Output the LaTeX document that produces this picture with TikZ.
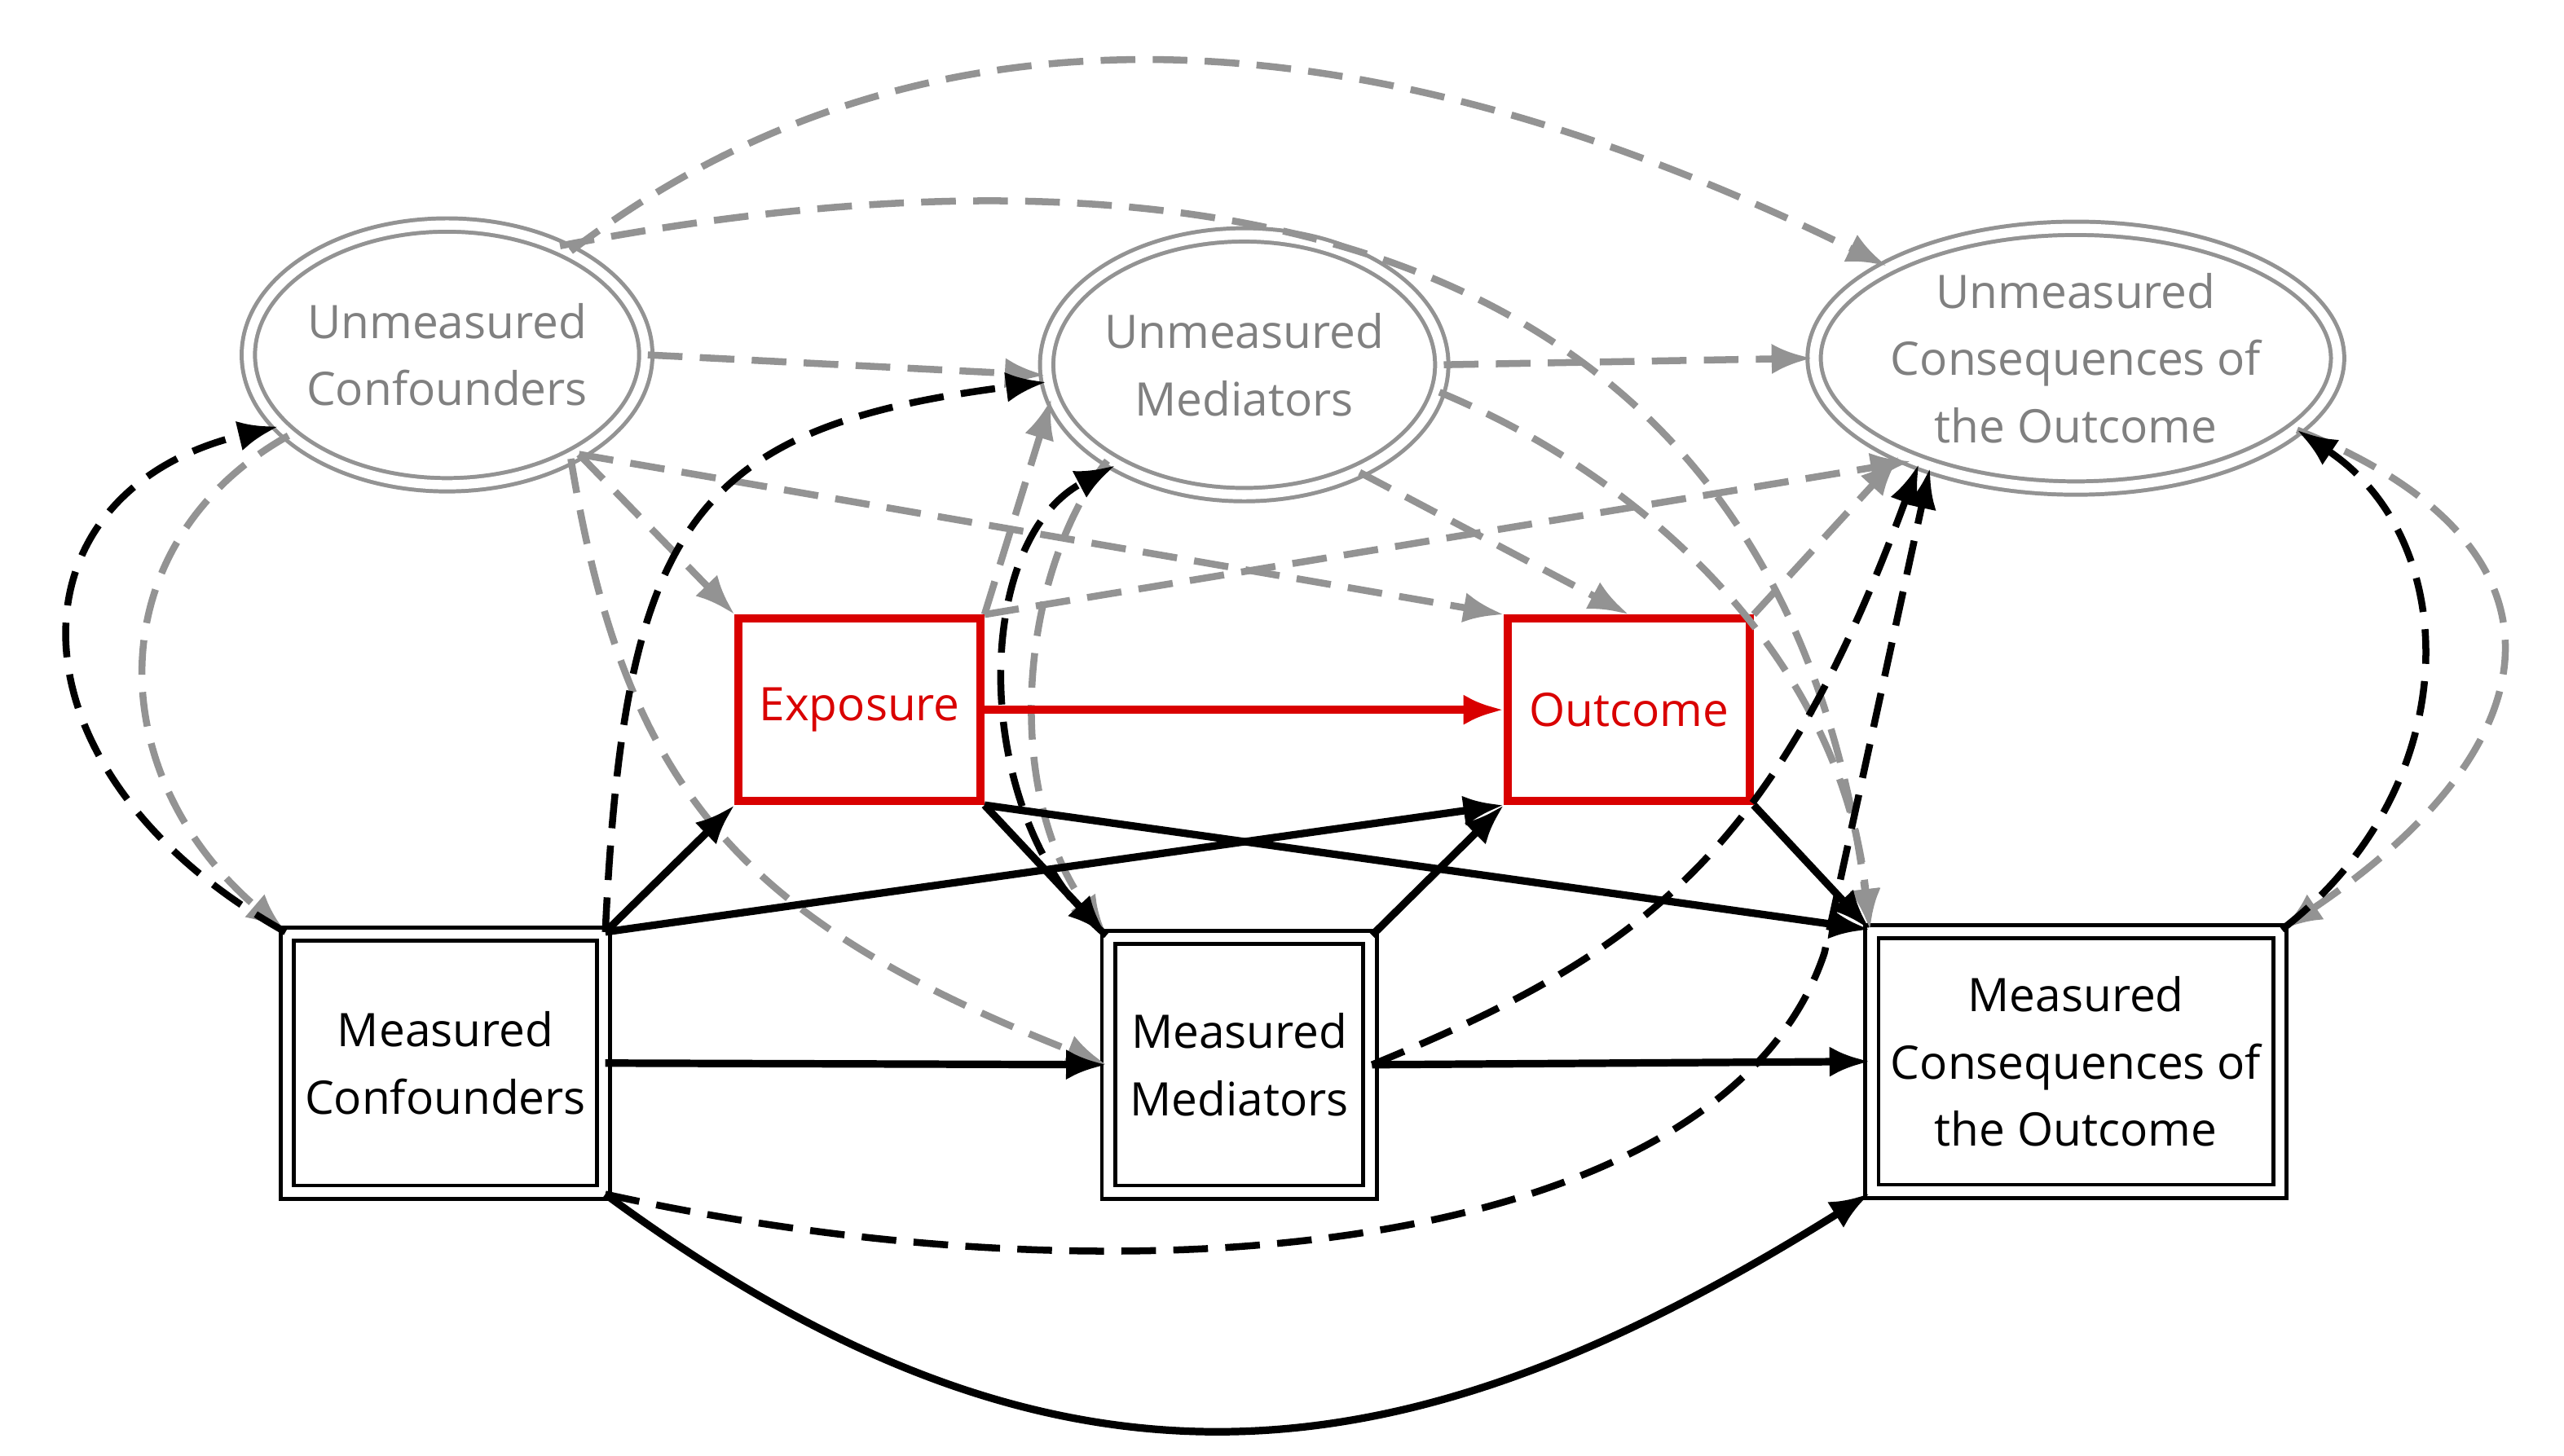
\documentclass[tikz,border=0pt]{standalone}
\usepackage{fontspec}
\setmainfont{Open Sans}
\usetikzlibrary{shapes.geometric,arrows.meta}
\tikzset{
  unm/.style={ellipse,draw=gray!85,double=white,double distance=1.6pt,line width=0.7pt,text=gray,align=center,inner sep=0pt},
  meas/.style={rectangle,draw=black,double=white,double distance=1.6pt,line width=0.7pt,align=center,inner sep=1pt},
  key/.style={rectangle,draw=red!85!black,line width=1.4pt,text=red!85!black,inner sep=1pt},
  gd/.style={-{Latex[length=7pt]},draw=gray!85,line width=1.2pt,dash pattern=on 6pt off 3pt},
  bd/.style={-{Latex[length=7pt]},draw=black,line width=1.2pt,dash pattern=on 6pt off 3pt},
  bs/.style={-{Latex[length=7pt]},draw=black,line width=1.3pt},
}
\begin{document}
\begin{tikzpicture}[x=0.01cm,y=-0.01cm,font=\fontsize{8}{11.6}\selectfont]
\useasboundingbox (0,0) rectangle (1560,886);
% latent nodes
\node[unm,minimum width=2.05cm,minimum height=1.58cm] (UC) at (272,216) {Unmeasured\\Confounders};
\node[unm,minimum width=2.05cm,minimum height=1.58cm] (UM) at (757,222) {Unmeasured\\Mediators};
\node[unm,minimum width=2.82cm,minimum height=1.58cm] (UCO) at (1263,218) {Unmeasured\\Consequences of\\the Outcome};
% exposure and outcome
\node[key,minimum width=1.47cm,minimum height=1.11cm] (E) at (523,432) {Exposure};
\node[key,minimum width=1.47cm,minimum height=1.11cm] (O) at (991,432) {Outcome};
% measured nodes
\node[meas,minimum width=1.92cm,minimum height=1.57cm] (MC) at (271,647) {Measured\\Confounders};
\node[meas,minimum width=1.59cm,minimum height=1.55cm] (MM) at (754,648) {Measured\\Mediators};
\node[meas,minimum width=2.48cm,minimum height=1.58cm] (MCO) at (1263,646) {Measured\\Consequences of\\the Outcome};
% gray dashed
\draw[gd] (UC.40) .. controls (600,-40) and (900,40) .. (UCO.154);
\draw[gd] (UC.44) .. controls (700,80) and (1080,120) .. (MCO.north west);
\draw[gd] (UC.0) -- (UM.183);
\draw[gd] (UC.-37) -- (E.north west);
\draw[gd] (UC.-37) -- (O.north west);
\draw[gd] (UC.-40) .. controls (380,480) and (450,560) .. (MM.west);
\draw[gd] (UC.207) .. controls (60,330) and (60,470) .. (MC.north west);
\draw[gd] (E.north east) -- (UM.190);
\draw[gd] (E.north east) -- (UCO.212);
\draw[gd] (UM.0) -- (UCO.180);
\draw[gd] (UM.-43) -- (O.north);
\draw[gd] (UM.-8) .. controls (1000,290) and (1120,400) .. (MCO.north west);
\draw[gd] (UM.215) .. controls (620,350) and (610,480) .. (MM.north west);
\draw[gd] (O.north east) -- (UCO.209);
\draw[gd] (UCO.-18) .. controls (1570,330) and (1560,450) .. (MCO.north east);
% black dashed
\draw[bd] (MC.north west) .. controls (0,470) and (0,300) .. (UC.203);
\draw[bd] (MC.north east) .. controls (380,320) and (420,260) .. (UM.185);
\draw[bd] (MM.north west) .. controls (590,500) and (590,330) .. (UM.218);
\draw[bd] (MM.east) .. controls (1000,580) and (1080,520) .. (UCO.214);
\draw[bd] (MC.south east) .. controls (700,800) and (1050,760) .. (1110,580) -- (UCO.217);
\draw[bd] (MCO.north east) .. controls (1500,480) and (1500,330) .. (UCO.-18);
% black solid
\draw[bs] (MC.north east) -- (E.south west);
\draw[bs] (MC.north east) -- (O.south west);
\draw[bs] (MC.east) -- (MM.west);
\draw[bs] (MC.south east) .. controls (650,935) and (860,900) .. (MCO.south west);
\draw[bs] (E.south east) -- (MM.north west);
\draw[bs] (E.south east) -- (MCO.north west);
\draw[bs] (MM.north east) -- (O.south west);
\draw[bs] (MM.east) -- (MCO.west);
\draw[bs] (O.south east) -- (MCO.north west);
% red
\draw[-{Latex[length=7pt]},red!85!black,line width=1.4pt] (E) -- (O);
\end{tikzpicture}
\end{document}
